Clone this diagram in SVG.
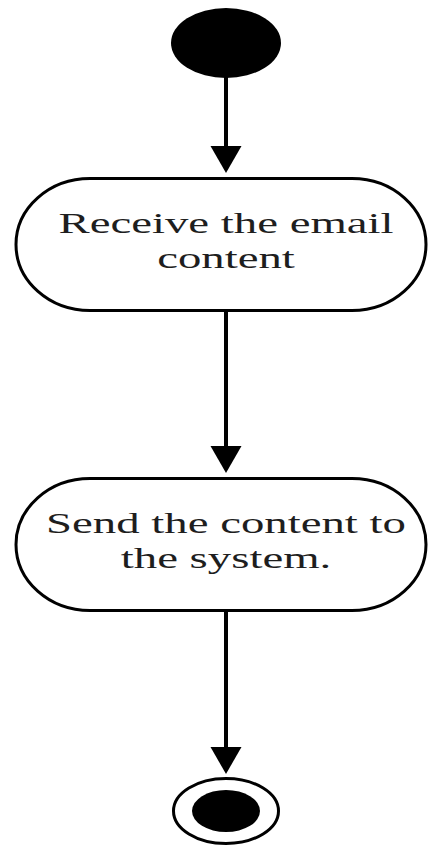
<svg xmlns="http://www.w3.org/2000/svg" width="430" height="846" viewBox="0 0 430 846">
  <style>
    .bg { fill: #ffffff; }
    .action { fill: #ffffff; stroke: #000000; stroke-width: 3; }
    .flow { stroke: #000000; stroke-width: 4; fill: none; }
    .label { font-family: "Liberation Serif", "Times New Roman", serif; font-size: 30px; fill: #1e1e1e; text-anchor: middle; }
    .solid { fill: #000000; }
    .ring { fill: #ffffff; stroke: #000000; stroke-width: 3; }
  </style>
  <defs>
    <marker id="arrowhead" markerUnits="userSpaceOnUse" markerWidth="28" markerHeight="32" viewBox="0 -16 28 32" refX="14" refY="0" orient="auto">
      <path d="M0,-15.5 L27,0 L0,15.5 z" fill="#000000"/>
    </marker>
  </defs>

  <rect class="bg" x="0" y="0" width="430" height="846"/>

  <!-- control flow edges -->
  <g id="connectors">
    <line class="flow" x1="226" y1="76" x2="226" y2="160" marker-end="url(#arrowhead)"/>
    <line class="flow" x1="226" y1="312" x2="226" y2="460" marker-end="url(#arrowhead)"/>
    <line class="flow" x1="226" y1="612" x2="226" y2="761" marker-end="url(#arrowhead)"/>
  </g>

  <!-- initial state -->
  <g id="start">
    <ellipse class="solid" cx="226" cy="43" rx="55" ry="35"/>
  </g>

  <!-- first action -->
  <g id="receive-email">
    <rect class="action" x="16" y="178.5" width="410" height="132" rx="74" ry="66"/>
    <text class="label" transform="translate(226,233) scale(1.56,1)">Receive the email</text>
    <text class="label" transform="translate(226,268) scale(1.56,1)">content</text>
  </g>

  <!-- second action -->
  <g id="send-content">
    <rect class="action" x="16" y="478.5" width="410" height="132" rx="74" ry="66"/>
    <text class="label" transform="translate(226,533) scale(1.56,1)">Send the content to</text>
    <text class="label" transform="translate(226,568) scale(1.56,1)">the system.</text>
  </g>

  <!-- final state -->
  <g id="end">
    <ellipse class="ring" cx="226" cy="811" rx="52.5" ry="32.5"/>
    <ellipse class="solid" cx="226" cy="811" rx="34" ry="21"/>
  </g>
</svg>
